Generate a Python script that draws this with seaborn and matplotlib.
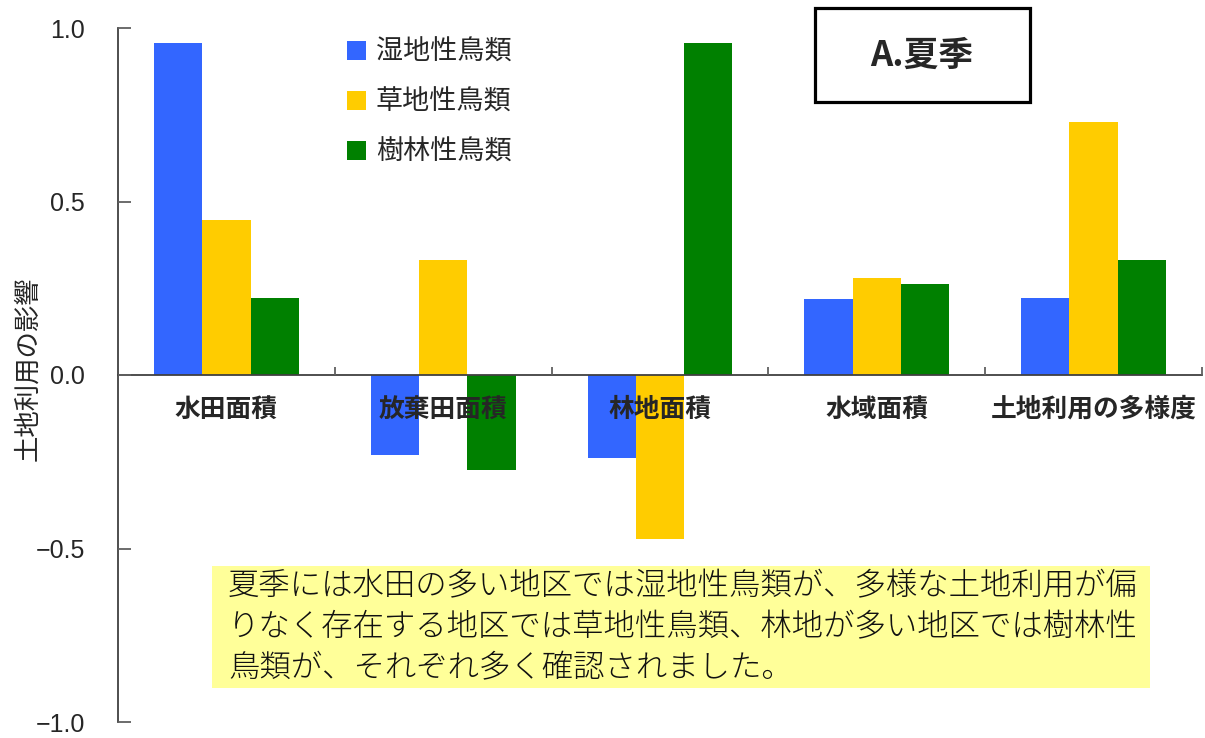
import matplotlib
matplotlib.use("Agg")
import matplotlib.pyplot as plt
import seaborn as sns
import pandas as pd
from matplotlib.patches import Rectangle

categories = ["水田面積", "放棄田面積", "林地面積", "水域面積", "土地利用の多様度"]
series = ["湿地性鳥類", "草地性鳥類", "樹林性鳥類"]
wetland = [0.957, -0.230, -0.239, 0.219, 0.222]
grassland = [0.447, 0.331, -0.473, 0.280, 0.729]
forest = [0.222, -0.274, 0.957, 0.262, 0.331]
colors = ["#3366FF", "#FFCC00", "#008000"]
yticks = [-1.0, -0.5, 0.0, 0.5, 1.0]
ylabel = "土地利用の影響"
title = "A.夏季"
note_lines = [
    "夏季には水田の多い地区では湿地性鳥類が、多様な土地利用が偏",
    "りなく存在する地区では草地性鳥類、林地が多い地区では樹林性",
    "鳥類が、それぞれ多く確認されました。",
]

rows = []
for s, vals in zip(series, [wetland, grassland, forest]):
    for c, v in zip(categories, vals):
        rows.append({"category": c, "series": s, "value": v})
df = pd.DataFrame(rows)

sns.set_theme(style="white")
plt.rcParams["font.family"] = ["Noto Sans CJK JP", "DejaVu Sans"]

W, H = 1205, 738
fig = plt.figure(figsize=(W / 100, H / 100), dpi=100)
ax = fig.add_axes([118 / W, 1 - 722 / H, (1202 - 118) / W, (722 - 28) / H])

sns.barplot(data=df, x="category", y="value", hue="series", order=categories,
            hue_order=series, palette=colors, saturation=1, width=0.667, gap=0,
            linewidth=0, edgecolor="none", ax=ax, legend=True)

ax.set_axisbelow(False)
ax.set_xlim(-0.5, 4.5)
ax.set_ylim(-1.0, 1.0)
ax.set_xlabel("")
ax.set_ylabel("")

spine_color = "#404040"
for s in ["top", "right"]:
    ax.spines[s].set_visible(False)
ax.spines["bottom"].set_position(("data", 0))
ax.spines["bottom"].set_color(spine_color)
ax.spines["left"].set_color(spine_color)
ax.spines["bottom"].set_linewidth(1.3)
ax.spines["left"].set_linewidth(1.3)

ax.set_yticks(yticks)
ax.set_yticklabels([f"{v:.1f}".replace("-", "\u2212") for v in yticks],
                   fontfamily="Liberation Sans", fontsize=18)
ax.tick_params(axis="y", left=True, direction="in", length=9, width=1.3,
               color="#606060", pad=24)

ax.set_xticks(range(len(categories)))
ax.set_xticklabels(categories, fontsize=18.5, fontweight="bold")
ax.tick_params(axis="x", which="major", bottom=True, length=0, pad=15)
ax.set_xticks([0.5, 1.5, 2.5, 3.5, 4.5], minor=True)
ax.tick_params(axis="x", which="minor", bottom=True, direction="in", length=6,
               width=1.3, color="#606060")

sns.move_legend(ax, "upper left", bbox_to_anchor=(347 / W, 1 - 39 / H),
                bbox_transform=fig.transFigure, frameon=False, title=None,
                fontsize=19.5, handlelength=0.72, handleheight=0.72,
                handletextpad=0.35, labelspacing=0.85, borderpad=0, borderaxespad=0)

fig.text(28 / W, 1 - 369 / H, ylabel, rotation=90, ha="center", va="center", fontsize=19)

# title box
fig.patches.append(Rectangle((815 / W, 1 - 102 / H), (1030 - 815) / W, (102 - 8) / H,
                             transform=fig.transFigure, facecolor="white",
                             edgecolor="black", linewidth=2.3, zorder=3))
fig.text(922 / W, 1 - 55 / H, title, ha="center", va="center", fontsize=25,
         fontweight="bold", zorder=4)

# note box
fig.patches.append(Rectangle((212 / W, 1 - 688 / H), (1150 - 212) / W, (688 - 566) / H,
                             transform=fig.transFigure, facecolor="#FFFF99",
                             edgecolor="none", zorder=3))
for i, line in enumerate(note_lines):
    fig.text(228 / W, 1 - (586 + 41 * i) / H, line, ha="left", va="center",
             fontsize=22.6, fontweight="light", zorder=4, color="#111111")

fig.savefig("out.png", dpi=100)
